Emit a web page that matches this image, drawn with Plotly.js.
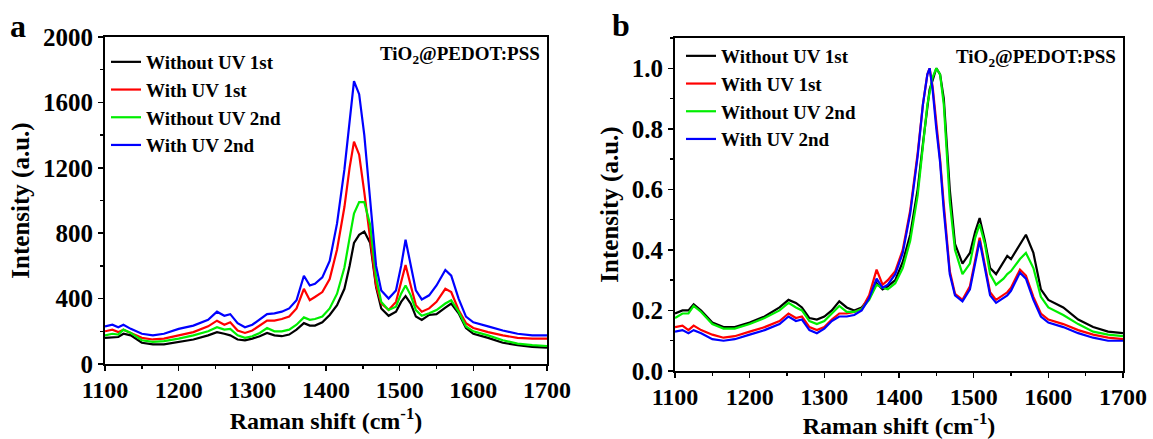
<!DOCTYPE html>
<html>
<head>
<meta charset="utf-8">
<script src="https://cdn.plot.ly/plotly-3.0.1.min.js"></script>
<style>
html,body{margin:0;padding:0;background:#fff;}
#chart{width:1153px;height:439px;}
</style>
</head>
<body>
<div id="chart"></div>
<script>
// ---------- Panel a: raw intensity ----------
const shiftA = [1100,1110,1118,1125,1135,1150,1165,1180,1200,1220,1240,1252,1262,1270,1280,1290,1300,1310,1320,1330,1340,1350,1360,1370,1378,1385,1395,1405,1415,1425,1432,1438,1445,1452,1460,1468,1475,1485,1495,1502,1508,1515,1522,1530,1540,1550,1562,1570,1580,1590,1600,1620,1640,1660,1680,1700];
const aWithoutUV1 = [160,165,165,185,175,130,120,120,135,150,175,195,185,175,150,145,155,170,190,175,170,180,210,250,235,235,255,300,360,460,600,740,790,810,740,470,340,295,320,380,415,370,290,270,300,305,345,370,310,220,185,160,130,115,105,100];
const aWithUV1 = [200,210,195,210,190,160,150,155,175,195,230,265,240,255,205,190,205,235,265,265,275,290,340,460,390,410,440,520,700,960,1200,1360,1280,1050,760,480,370,330,380,500,605,480,360,320,340,380,460,440,330,250,220,195,175,160,155,155];
const aWithoutUV2 = [175,185,180,210,190,145,135,140,155,175,200,225,210,215,175,160,170,190,220,200,200,210,240,285,270,275,290,340,430,590,770,920,990,990,850,530,380,330,350,430,480,420,330,295,310,330,370,390,320,230,200,175,145,125,115,110];
const aWithUV2 = [230,240,225,240,215,185,175,185,215,235,270,320,295,305,250,225,240,275,305,310,320,340,390,540,480,490,530,630,860,1190,1460,1730,1650,1400,1000,600,450,400,450,600,760,600,450,395,420,480,575,540,400,290,255,230,205,185,175,175];

// ---------- Panel b: normalized intensity ----------
const shiftB = [1100,1110,1118,1125,1135,1150,1165,1180,1200,1220,1240,1252,1262,1270,1280,1290,1300,1310,1320,1330,1340,1350,1360,1370,1378,1385,1395,1405,1415,1425,1432,1438,1441,1445,1450,1455,1460,1468,1475,1485,1495,1502,1508,1515,1522,1530,1540,1545,1550,1562,1570,1580,1590,1600,1620,1640,1660,1680,1700];
const bWithoutUV1 = [0.19,0.20,0.20,0.22,0.20,0.16,0.145,0.145,0.16,0.18,0.21,0.235,0.225,0.21,0.175,0.17,0.18,0.20,0.23,0.21,0.20,0.21,0.24,0.29,0.27,0.28,0.30,0.36,0.45,0.60,0.75,0.88,0.93,0.96,1.0,0.98,0.90,0.60,0.42,0.355,0.39,0.46,0.505,0.43,0.34,0.32,0.36,0.38,0.37,0.42,0.45,0.39,0.27,0.235,0.21,0.17,0.145,0.13,0.125];
const bWithUV1 = [0.145,0.15,0.135,0.15,0.135,0.12,0.11,0.115,0.13,0.145,0.165,0.19,0.175,0.18,0.145,0.135,0.145,0.17,0.19,0.19,0.195,0.205,0.25,0.335,0.285,0.30,0.33,0.40,0.53,0.72,0.88,0.98,1.0,0.94,0.82,0.70,0.55,0.33,0.255,0.235,0.28,0.37,0.44,0.35,0.26,0.235,0.25,0.26,0.275,0.335,0.315,0.245,0.19,0.17,0.155,0.135,0.12,0.11,0.105];
const bWithoutUV2 = [0.175,0.19,0.19,0.215,0.195,0.155,0.14,0.14,0.155,0.175,0.20,0.225,0.21,0.20,0.165,0.155,0.165,0.19,0.215,0.195,0.195,0.205,0.235,0.285,0.275,0.27,0.29,0.34,0.43,0.58,0.74,0.88,0.92,0.97,1.0,0.98,0.88,0.56,0.40,0.32,0.355,0.44,0.485,0.42,0.32,0.285,0.305,0.32,0.33,0.37,0.39,0.34,0.245,0.21,0.185,0.155,0.13,0.12,0.115];
const bWithUV2 = [0.13,0.135,0.125,0.135,0.125,0.105,0.10,0.105,0.12,0.135,0.155,0.18,0.165,0.17,0.135,0.125,0.14,0.165,0.18,0.18,0.185,0.20,0.24,0.305,0.275,0.285,0.32,0.39,0.52,0.71,0.88,0.98,1.0,0.93,0.80,0.69,0.53,0.32,0.25,0.23,0.27,0.36,0.43,0.34,0.25,0.225,0.24,0.25,0.265,0.325,0.305,0.235,0.18,0.16,0.145,0.125,0.11,0.10,0.10];

const seriesNames = ["Without UV 1st","With UV 1st","Without UV 2nd","With UV 2nd"];
const seriesColors = ["#000000","#ff0000","#00ee00","#0000ff"];
const xTicks = [1100,1200,1300,1400,1500,1600,1700];
const yTicksA = [0,400,800,1200,1600,2000];
const yTicksB = [0.0,0.2,0.4,0.6,0.8,1.0];

const FONT = "Liberation Serif, Times New Roman, serif";
const dataA = [aWithoutUV1,aWithUV1,aWithoutUV2,aWithUV2];
const dataB = [bWithoutUV1,bWithUV1,bWithoutUV2,bWithUV2];
const traces = [];
dataA.forEach((ys,i)=>traces.push({x:shiftA,y:ys,type:"scatter",mode:"lines",name:"<b>"+seriesNames[i]+"</b>",
  line:{color:seriesColors[i],width:2.2},xaxis:"x",yaxis:"y",legend:"legend"}));
dataB.forEach((ys,i)=>traces.push({x:shiftB,y:ys,type:"scatter",mode:"lines",name:"<b>"+seriesNames[i]+"</b>",
  line:{color:seriesColors[i],width:2.2},xaxis:"x2",yaxis:"y2",legend:"legend2"}));

const xTickFont = {family:FONT,size:24,color:"#000",weight:"bold"};
const yTickFont = {family:FONT,size:25,color:"#000",weight:"bold"};
const titleFont = {family:FONT,size:24,color:"#000",weight:"bold"};
function xAxis(domain, anchor){
  return {domain:domain,anchor:anchor,range:[1100,1700],tickvals:xTicks,ticktext:xTicks.map(v=>"<b>"+v+"</b>"),
    ticks:"outside",ticklen:5,tickwidth:1.5,tickcolor:"#000",showline:true,linewidth:2,linecolor:"#000",mirror:true,
    showgrid:false,zeroline:false,tickfont:xTickFont,ticklabelstandoff:-2,
    minor:{dtick:50,tick0:1100,ticks:"outside",ticklen:3,tickwidth:1.5,tickcolor:"#000",showgrid:false},
    title:{text:"<b>Raman shift (cm<sup>-1</sup>)</b>",font:titleFont,standoff:10},automargin:false};
}
function yAxis(domain, anchor, range, vals, fmt, minorStep){
  return {domain:domain,anchor:anchor,range:range,tickvals:vals,ticktext:vals.map(v=>"<b>"+fmt(v)+"</b>"),
    ticks:"outside",ticklen:5,tickwidth:1.5,tickcolor:"#000",showline:true,linewidth:2,linecolor:"#000",mirror:true,
    showgrid:false,zeroline:false,tickfont:yTickFont,
    minor:{dtick:minorStep,tick0:0,ticks:"outside",ticklen:3,tickwidth:1.5,tickcolor:"#000",showgrid:false},
    title:{text:"<b>Intensity (a.u.)</b>",font:{family:FONT,size:25,color:"#000",weight:"bold"},standoff:6},automargin:false};
}
const legendFont = {family:FONT,size:19,color:"#000",weight:"bold"};
const layout = {
  width:1153,height:439,margin:{l:0,r:0,t:0,b:0},paper_bgcolor:"#fff",plot_bgcolor:"#fff",
  font:{family:FONT,color:"#000"},
  xaxis:xAxis([105/1153,547/1153],"y"),
  yaxis:yAxis([1-364/439,1-37/439],"x",[0,2000],yTicksA,v=>String(v),200),
  xaxis2:xAxis([675/1153,1123/1153],"y2"),
  yaxis2:yAxis([1-371/439,1-38/439],"x2",[0,1.1],yTicksB,v=>v.toFixed(1),0.1),
  legend:{x:106/1153,y:1-43/439,xanchor:"left",yanchor:"top",bgcolor:"rgba(0,0,0,0)",font:legendFont,
    itemwidth:30,tracegroupgap:0,traceorder:"normal"},
  legend2:{x:681/1153,y:1-37/439,xanchor:"left",yanchor:"top",bgcolor:"rgba(0,0,0,0)",font:legendFont,
    itemwidth:30,tracegroupgap:0,traceorder:"normal"},
  showlegend:true,
  annotations:[
    {text:"<b>TiO<sub>2</sub>@PEDOT:PSS</b>",xref:"paper",yref:"paper",x:542/1153,y:1-55/439,xanchor:"right",yanchor:"middle",
     showarrow:false,font:{family:FONT,size:19,color:"#000",weight:"bold"}},
    {text:"<b>TiO<sub>2</sub>@PEDOT:PSS</b>",xref:"paper",yref:"paper",x:1118/1153,y:1-58/439,xanchor:"right",yanchor:"middle",
     showarrow:false,font:{family:FONT,size:19,color:"#000",weight:"bold"}},
    {text:"<b>a</b>",xref:"paper",yref:"paper",x:18/1153,y:1-26/439,xanchor:"center",yanchor:"middle",
     showarrow:false,font:{family:FONT,size:32,color:"#000",weight:"bold"}},
    {text:"<b>b</b>",xref:"paper",yref:"paper",x:621/1153,y:1-25/439,xanchor:"center",yanchor:"middle",
     showarrow:false,font:{family:FONT,size:32,color:"#000",weight:"bold"}}
  ]
};
Plotly.newPlot("chart",traces,layout,{displayModeBar:false,staticPlot:true});
</script>
</body>
</html>
